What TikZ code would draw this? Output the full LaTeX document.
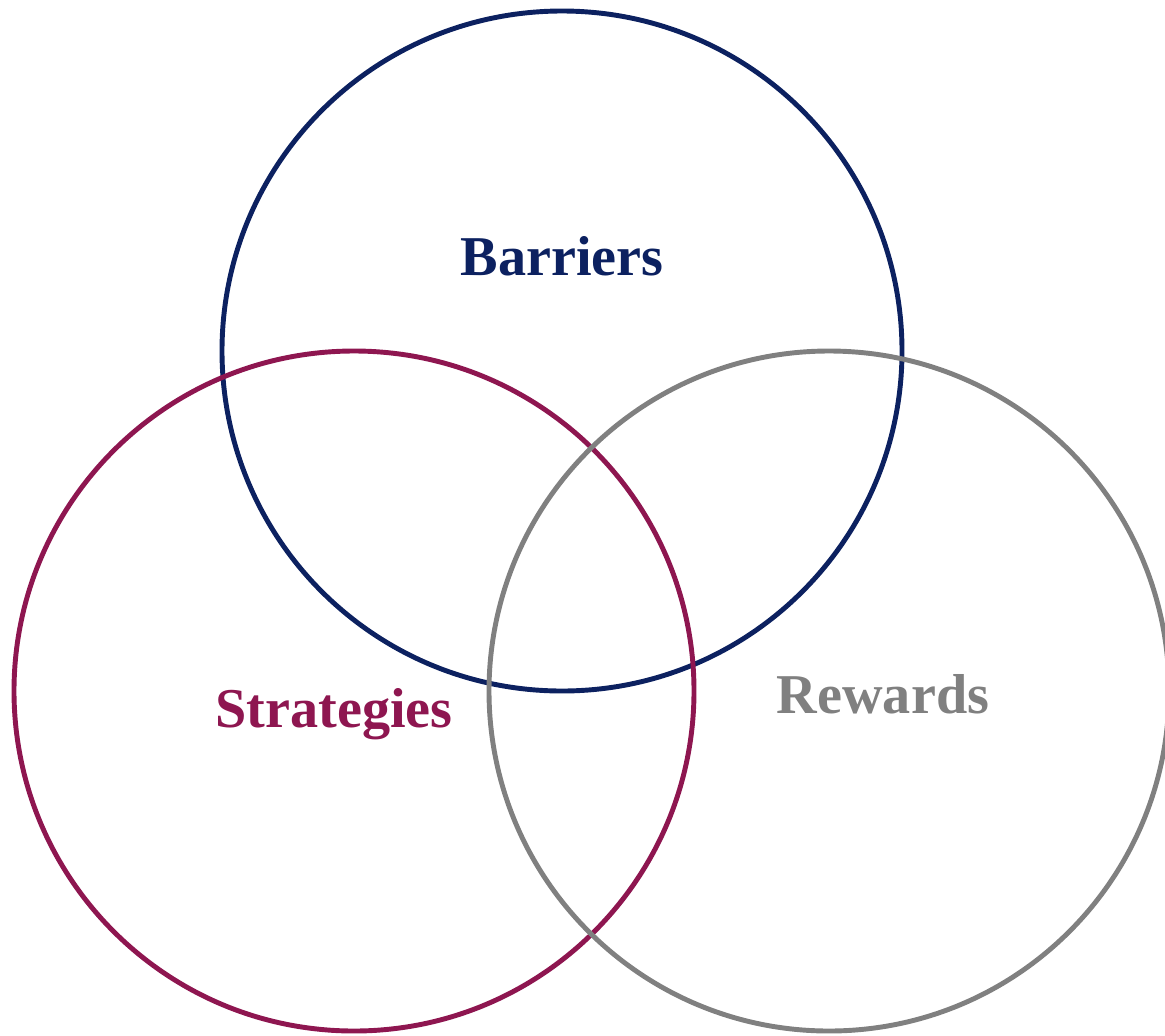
\documentclass[tikz,border=0pt]{standalone}
\usepackage{fontspec}
\setmainfont{Liberation Serif}
\usepackage{xcolor}
\definecolor{navyblue}{HTML}{0C2160}
\definecolor{berry}{HTML}{8E1650}
\definecolor{greyish}{HTML}{808080}

\begin{document}
\begin{tikzpicture}[x=0.02cm,y=-0.02cm]
\def\r{340}
\useasboundingbox (0,0) rectangle (1165,1035);
\begin{scope}
\clip (0,0) rectangle (1165,1035);
\draw[navyblue, line width=2.8pt] (562,351) circle (\r);
\draw[berry, line width=2.8pt] (354,691) circle (\r);
\draw[greyish, line width=2.8pt] (829,691) circle (\r);
\end{scope}
\path (562,256) node[navyblue] (barriers) {\fontsize{32}{36}\selectfont\bfseries Barriers};
\path (334,714) node[berry] (strategies) {\fontsize{32}{36}\selectfont\bfseries Strategies};
\path (883,694) node[greyish] (rewards) {\fontsize{32}{36}\selectfont\bfseries Rewards};
\end{tikzpicture}
\end{document}
